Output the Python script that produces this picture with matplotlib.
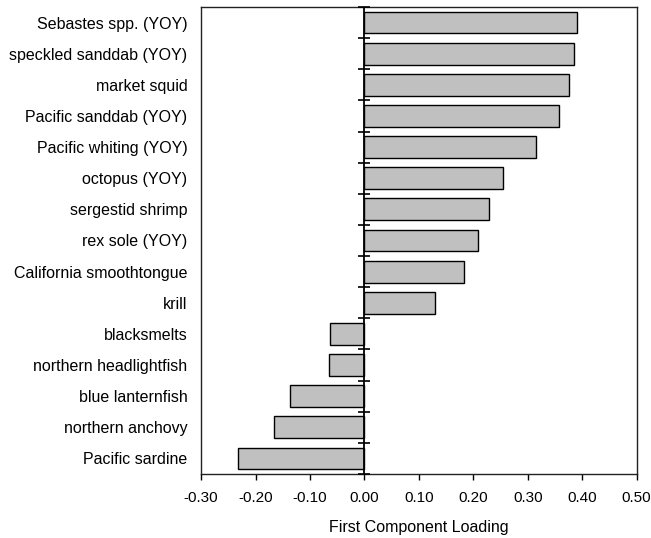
import numpy as np
import matplotlib.pyplot as plt

plt.rcParams["font.family"] = ["Liberation Sans", "DejaVu Sans"]
plt.rcParams["font.size"] = 11

species = [
    "Sebastes spp. (YOY)",
    "speckled sanddab (YOY)",
    "market squid",
    "Pacific sanddab (YOY)",
    "Pacific whiting (YOY)",
    "octopus (YOY)",
    "sergestid shrimp",
    "rex sole (YOY)",
    "California smoothtongue",
    "krill",
    "blacksmelts",
    "northern headlightfish",
    "blue lanternfish",
    "northern anchovy",
    "Pacific sardine",
]
loading = [0.390, 0.384, 0.375, 0.357, 0.315, 0.255, 0.228, 0.209,
           0.183, 0.130, -0.063, -0.065, -0.136, -0.166, -0.233]
xticks = [-0.30, -0.20, -0.10, 0.00, 0.10, 0.20, 0.30, 0.40, 0.50]

n = len(species)
ypos = np.arange(n)[::-1]

fig = plt.figure(figsize=(6.51, 5.38), dpi=100)
ax = fig.add_axes([0.309, 0.119, 0.669, 0.868])

ax.barh(ypos, loading, height=0.7, color="#c0c0c0",
        edgecolor="black", linewidth=1.0, zorder=2)

# zero line with category boundary ticks
ax.axvline(0, color="black", linewidth=1.3, zorder=3)
bounds = np.arange(n + 1) - 0.5
ax.plot(np.zeros_like(bounds), bounds, ls="none", marker="_",
        markersize=8, markeredgewidth=1.2, color="black",
        zorder=3, clip_on=False)

ax.set_xlim(-0.30, 0.50)
ax.set_ylim(-0.5, n - 0.5)
ax.set_xticks(xticks)
ax.set_xticklabels([f"{v:.2f}" for v in xticks])
ax.set_yticks(ypos)
ax.set_yticklabels(species, fontsize=11.5)

ax.tick_params(axis="y", length=0, pad=10)
ax.tick_params(axis="x", length=4, width=1, direction="out", pad=8)
for s in ax.spines.values():
    s.set_linewidth(1.0)
    s.set_color("#222222")

ax.set_xlabel("First Component Loading", fontsize=11.5, labelpad=11)

fig.savefig("out.png", dpi=100)
